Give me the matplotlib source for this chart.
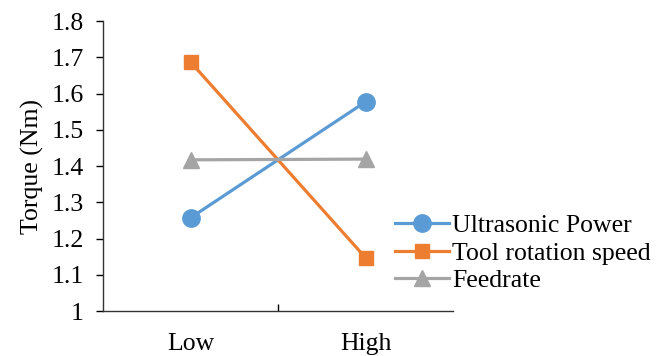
import numpy as np
import matplotlib.pyplot as plt

levels = ['Low', 'High']
ultrasonic_power = [1.257, 1.577]
tool_rotation_speed = [1.687, 1.147]
feedrate = [1.417, 1.419]

plt.rcParams['font.family'] = ['Liberation Serif', 'DejaVu Serif']
fs = 18.5

fig = plt.figure(figsize=(6.62, 3.56), dpi=100)
ax = fig.add_axes([0.1556, 0.1264, 0.5287, 0.8146])

x = np.arange(len(levels))
ax.plot(x, ultrasonic_power, '-o', color='#5B9BD5', lw=2.3, ms=12.5, label='Ultrasonic Power')
ax.plot(x, tool_rotation_speed, '-s', color='#ED7D31', lw=2.3, ms=10.5, label='Tool rotation speed')
ax.plot(x, feedrate, '-^', color='#A5A5A5', lw=2.3, ms=11, label='Feedrate')

ax.set_xlim(-0.5, 1.5)
ax.set_ylim(1.0, 1.8)
ax.set_yticks(np.arange(1.0, 1.81, 0.1))
ax.set_yticklabels(['1', '1.1', '1.2', '1.3', '1.4', '1.5', '1.6', '1.7', '1.8'])
ax.set_xticks(x)
ax.set_xticklabels(levels)
ax.set_xticks([0.5], minor=True)
ax.tick_params(axis='x', which='major', length=0, pad=16, labelsize=fs)
ax.tick_params(axis='x', which='minor', length=5, direction='in', width=1)
ax.tick_params(axis='y', length=5, direction='out', width=1, labelsize=fs, pad=9)

for s in ['top', 'right']:
    ax.spines[s].set_visible(False)
for s in ['left', 'bottom']:
    ax.spines[s].set_color('#333333')
    ax.spines[s].set_linewidth(1)

ax.set_ylabel('Torque (Nm)', fontsize=fs, labelpad=5)

fig.legend(loc='center left', bbox_to_anchor=(0.596, 0.289), frameon=False,
           fontsize=fs, handlelength=2.1, handletextpad=0.15, labelspacing=0.17,
           borderaxespad=0, borderpad=0)

fig.savefig('out.png', dpi=100)
